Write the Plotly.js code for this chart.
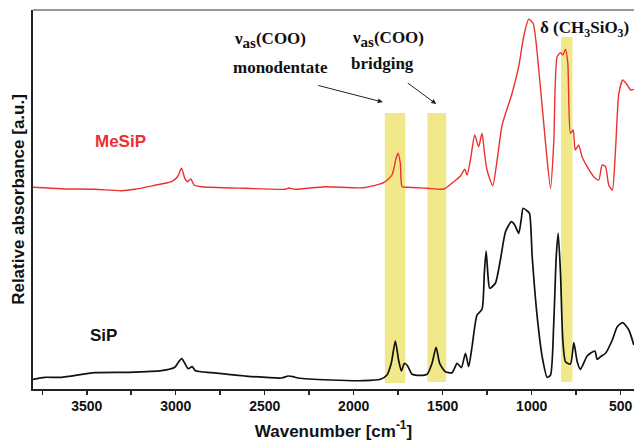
<!DOCTYPE html>
<html>
<head>
<meta charset="utf-8">
<script src="https://cdn.plot.ly/plotly-3.0.1.min.js"></script>
<style>html,body{margin:0;padding:0;overflow:hidden;background:#fff}</style>
</head>
<body>
<div id="chart" style="width:634px;height:441px"></div>
<script>
// SiP spectrum (black), wavenumber [cm-1] and relative absorbance [a.u.]
const sipWavenumber = [3802,3736,3643,3455,3268,3080,3005,2983,2966,2949,2930,2908,2889,2799,2611,2406,2368,2340,2312,2132,1944,1850,1813,1789,1766,1748,1732,1715,1697,1672,1644,1588,1560,1537,1517,1485,1447,1419,1395,1372,1354,1335,1307,1279,1266,1256,1245,1236,1204,1176,1147,1114,1095,1073,1059,1048,1025,1012,997,969,941,913,894,876,862,851,838,825,810,782,763,744,726,688,645,632,613,585,547,519,488,454,426];
const sipAbsorbance = [9.7,11.7,11.7,16.3,16.7,18.3,21.7,27.3,30.3,25.7,20.3,22.3,18.3,16.3,13,11,13,12.3,11,9,8.3,9.7,14,25.7,48,29,18,25.7,23,14.7,13.7,14.7,25.7,41.7,25.7,17.3,16.3,25.7,21.3,35.7,22.3,42.3,74,79.7,115.7,138,112.3,100.7,105.7,129,157.3,167.3,164,155.7,169,180.7,178,175.7,132.3,72.3,32.3,11.7,14,65.7,132.3,155.7,115.7,49,27.3,25,46.3,27.3,19.7,33,38,29.7,32.3,35.7,49,62.3,66.3,59,44];

// MeSiP spectrum (red, offset)
const mesipWavenumber = [3802,3643,3455,3305,3230,3118,3024,2990,2968,2949,2934,2915,2897,2855,2611,2386,2364,2330,2162,1944,1832,1785,1762,1751,1738,1728,1700,1588,1494,1438,1400,1376,1363,1344,1320,1298,1279,1266,1251,1219,1194,1166,1110,1073,1045,1017,992,960,922,894,876,857,838,825,810,797,782,767,755,736,717,688,651,623,604,585,567,547,529,510,488,463,444,426];
const mesipAbsorbance = [201.7,200.3,199.7,198.3,199.7,203.7,207.3,212.3,220.7,210.7,207.3,210,204,202.3,200.7,199.7,201,199.7,202.3,201.3,206.3,214,230.7,235.7,225.7,202.3,201.7,200.7,200,207.3,213,219.7,214,229,254,242.3,255.7,237.3,219,203.3,229,264,295.7,322.3,352.3,369.7,365.7,319,245.7,200.7,245.7,332.3,336.3,334,339.7,325.7,255.7,259,239,244,232.3,222.3,212.3,209,224,222.3,204,199,239,295.7,309,304,299,299.7];

// Highlighted bands
const bandStart = [1825, 1586, 835];
const bandEnd = [1710, 1480, 771];
const bandBottom = [6, 7, 7];
const bandTop = [276, 276, 352];

const tickVals = [3500, 3000, 2500, 2000, 1500, 1000, 500];
const tickText = ['3500', '3000', '2500', '2000', '1500', '1000', '500'];

const traces = [
  {x: mesipWavenumber, y: mesipAbsorbance, type: 'scatter', mode: 'lines', name: 'MeSiP',
   line: {color: '#ec3030', width: 1.4, shape: 'spline', smoothing: 0.6}, hoverinfo: 'skip'},
  {x: sipWavenumber, y: sipAbsorbance, type: 'scatter', mode: 'lines', name: 'SiP',
   line: {color: '#111111', width: 1.7, shape: 'spline', smoothing: 0.6}, hoverinfo: 'skip'}
];

const shapes = bandStart.map((s, i) => ({
  type: 'rect', xref: 'x', yref: 'y', x0: s, x1: bandEnd[i], y0: bandBottom[i], y1: bandTop[i],
  fillcolor: '#efe77c', opacity: 0.9, line: {width: 0}, layer: 'below'
}));
shapes.push({type: 'line', xref: 'paper', yref: 'paper', x0: 0, x1: 1, y0: 1, y1: 1,
  line: {color: '#777777', width: 1.5}});

const serif = {family: 'Liberation Serif, Times New Roman, serif', size: 17, color: '#111'};
const sans = {family: 'Liberation Sans, Arial, sans-serif'};
const nuAs = '<b>ν<sub><span style="font-size:15px">as</span></sub>(COO)</b>';

const annotations = [
  {xref: 'paper', yref: 'paper', x: 0.394, y: 0.921, text: nuAs, showarrow: false, font: serif, xanchor: 'center', yanchor: 'middle'},
  {xref: 'paper', yref: 'paper', x: 0.411, y: 0.847, text: '<b>monodentate</b>', showarrow: false, font: serif, xanchor: 'center', yanchor: 'middle'},
  {xref: 'paper', yref: 'paper', x: 0.591, y: 0.923, text: nuAs, showarrow: false, font: serif, xanchor: 'center', yanchor: 'middle'},
  {xref: 'paper', yref: 'paper', x: 0.581, y: 0.860, text: '<b>bridging</b>', showarrow: false, font: serif, xanchor: 'center', yanchor: 'middle'},
  {xref: 'paper', yref: 'paper', x: 0.918, y: 0.950, text: '<b>δ (CH<sub>3</sub>SiO<sub>3</sub>)</b>', showarrow: false, font: serif, xanchor: 'center', yanchor: 'middle'},
  {xref: 'paper', yref: 'paper', x: 0.145, y: 0.652, text: '<b>MeSiP</b>', showarrow: false, font: {family: sans.family, size: 17, color: '#ec3030'}, xanchor: 'center', yanchor: 'middle'},
  {xref: 'paper', yref: 'paper', x: 0.118, y: 0.142, text: '<b>SiP</b>', showarrow: false, font: {family: sans.family, size: 17, color: '#111'}, xanchor: 'center', yanchor: 'middle'},
  {xref: 'paper', yref: 'paper', x: 0.582, y: 0.757, text: '', showarrow: true, ax: -66, ay: -17, arrowhead: 2, arrowsize: 1, arrowwidth: 1, arrowcolor: '#222'},
  {xref: 'paper', yref: 'paper', x: 0.671, y: 0.752, text: '', showarrow: true, ax: -30, ay: -22, arrowhead: 2, arrowsize: 1, arrowwidth: 1, arrowcolor: '#222'}
];

const layout = {
  width: 634, height: 441,
  margin: {l: 33, r: 0, t: 10, b: 52},
  paper_bgcolor: '#fff', plot_bgcolor: '#fff',
  showlegend: false,
  xaxis: {
    range: [3802, 425], showgrid: false, zeroline: false,
    showline: true, linecolor: '#222', linewidth: 1.6,
    tickmode: 'array', tickvals: tickVals, ticktext: tickText,
    ticks: 'outside', ticklen: 4, tickwidth: 1.5, tickcolor: '#222',
    minor: {dtick: 250, tick0: 0, ticks: 'outside', ticklen: 4, tickwidth: 1.5, tickcolor: '#222'},
    tickfont: {family: 'Liberation Sans', size: 14, color: '#111', weight: 700},
    title: {text: '<b>Wavenumber [cm<sup>-1</sup>]</b>', font: {family: sans.family, size: 17, color: '#111'}, standoff: 11}
  },
  yaxis: {
    range: [0, 379], showgrid: false, zeroline: false,
    showline: true, linecolor: '#222', linewidth: 1.6,
    showticklabels: false, ticks: '',
    title: {text: '<b>Relative absorbance [a.u.]</b>', font: {family: sans.family, size: 17, color: '#111'}, standoff: 2}
  },
  shapes: shapes,
  annotations: annotations
};

Plotly.newPlot('chart', traces, layout, {staticPlot: true, displayModeBar: false});
</script>
</body>
</html>
